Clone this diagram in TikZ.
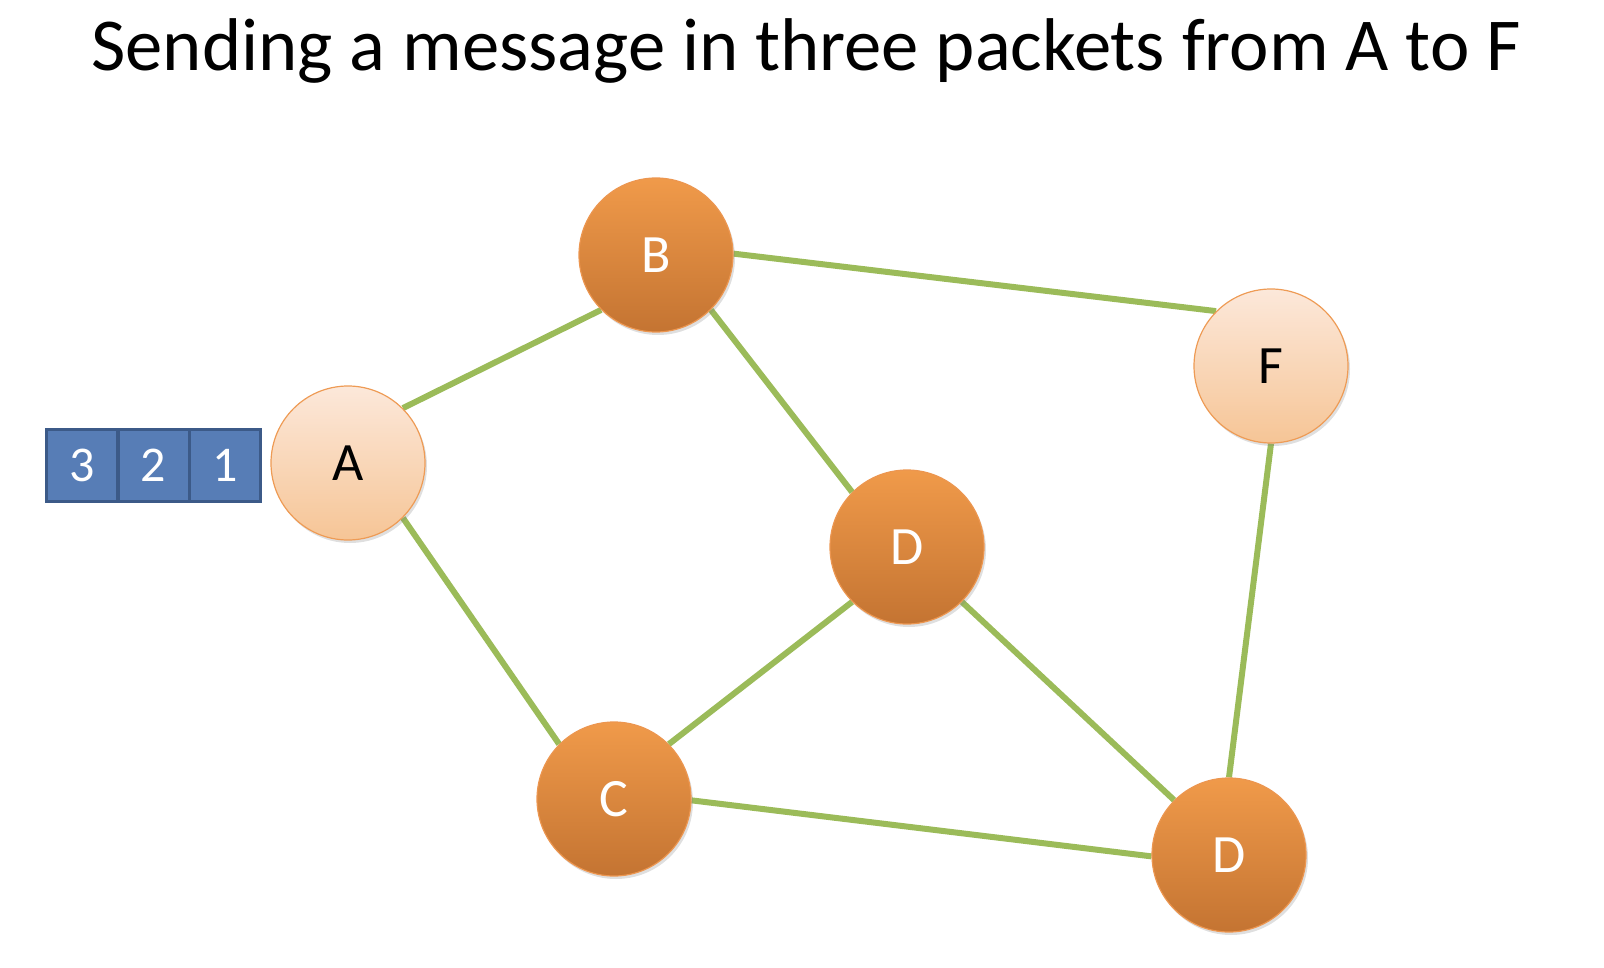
\documentclass[tikz,border=0pt]{standalone}
\usepackage{fontspec}
\setmainfont{Carlito}
\usetikzlibrary{shadows,backgrounds}
\definecolor{edgegreen}{HTML}{9BBB59}
\definecolor{darktop}{HTML}{F09A4A}
\definecolor{darkbot}{HTML}{C47432}
\definecolor{darkrim}{HTML}{EC9650}
\definecolor{lighttop}{HTML}{FCE8DA}
\definecolor{lightbot}{HTML}{F6C596}
\definecolor{lightrim}{HTML}{EE9B55}
\definecolor{pktfill}{HTML}{577DB6}
\definecolor{pktrim}{HTML}{3C5A88}
\tikzset{
  darknode/.style={circle, minimum size=154pt, inner sep=0pt, top color=darktop, bottom color=darkbot, draw=darkrim, line width=1.2pt, text=white, font=\fontsize{54}{60}\selectfont, drop shadow={shadow xshift=2pt, shadow yshift=-3pt, opacity=0.25}},
  lightnode/.style={circle, minimum size=154pt, inner sep=0pt, top color=lighttop, bottom color=lightbot, draw=lightrim, line width=1.2pt, text=black, font=\fontsize{54}{60}\selectfont, drop shadow={shadow xshift=2pt, shadow yshift=-3pt, opacity=0.25}},
  link/.style={draw=edgegreen, line width=6pt},
  pkt/.style={rectangle, minimum width=71pt, minimum height=72pt, inner sep=0pt, fill=pktfill, draw=pktrim, line width=3pt, text=white, font=\fontsize{50}{56}\selectfont}
}
\begin{document}
\begin{tikzpicture}[x=1pt,y=-1pt]
\useasboundingbox (0,0) rectangle (1604,968);
\node[font=\fontsize{74.7}{80}\selectfont] (title) at (806,51) {Sending a message in three packets from A to F};
\node[lightnode] (A) at (348,463) {A};
\node[darknode] (B) at (656,255) {B};
\node[lightnode] (F) at (1271,366) {F};
\node[darknode] (D1) at (907,547) {D};
\node[darknode] (C) at (614,799) {C};
\node[darknode] (D2) at (1229,855) {D};
\begin{scope}[on background layer]
\draw[link] (A.45) -- (B.225);
\draw[link] (A.315) -- (C.135);
\draw[link] (B.1) -- (F.135);
\draw[link] (B.315) -- (D1.135);
\draw[link] (D1.225) -- (C.45);
\draw[link] (D1.315) -- (D2.135);
\draw[link] (C.359) -- (D2.181);
\draw[link] (F.270) -- (D2.90);
\end{scope}
\node[pkt] (p3) at (82,465) {3};
\node[pkt] (p2) at (153.5,465) {2};
\node[pkt] (p1) at (225,465) {1};
\end{tikzpicture}
\end{document}
